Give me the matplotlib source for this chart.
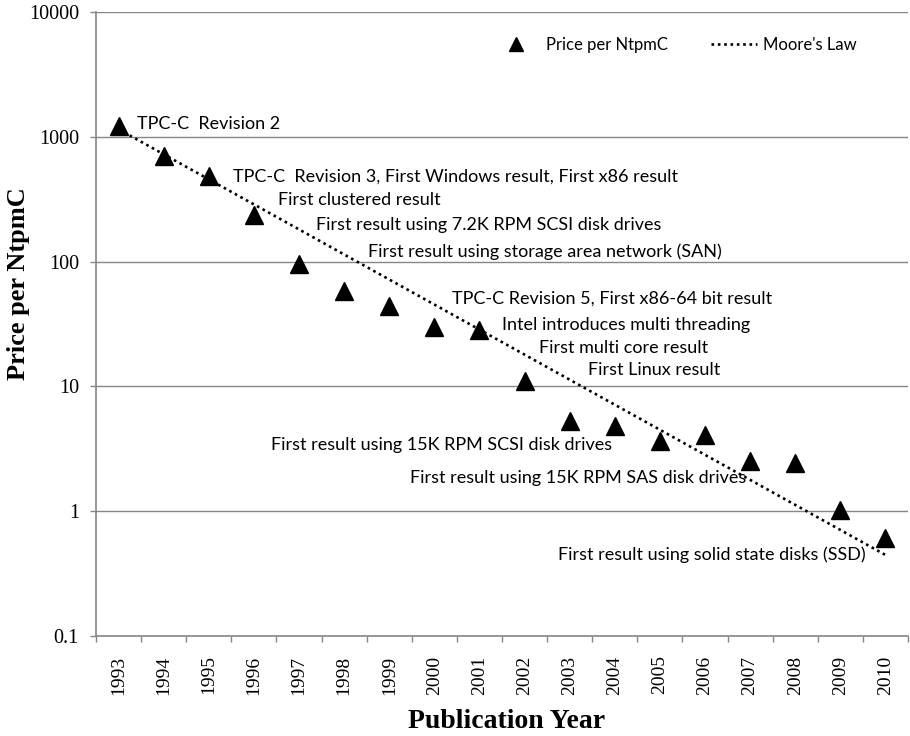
import matplotlib
matplotlib.use("Agg")
import matplotlib.pyplot as plt
from matplotlib.ticker import FixedLocator, NullFormatter, FixedFormatter

years = ["1993", "1994", "1995", "1996", "1997", "1998", "1999", "2000", "2001",
         "2002", "2003", "2004", "2005", "2006", "2007", "2008", "2009", "2010"]
price_per_ntpmc = [1210, 700, 485, 238, 96, 58, 44, 30, 28.5,
                   11.0, 5.3, 4.8, 3.65, 4.1, 2.52, 2.45, 1.02, 0.61]

# Moore's Law trend: endpoints of the straight (log-scale) line
moore_years = ["1993", "2010"]
moore_values = [1150, 0.446]

# Event notes: (text, x position in category units, y value, alignment)
events = [
    ("TPC-C  Revision 2", 0.41, 1267, "left"),
    ("TPC-C  Revision 3, First Windows result, First x86 result", 2.54, 476, "left"),
    ("First clustered result", 3.54, 312, "left"),
    ("First result using 7.2K RPM SCSI disk drives", 4.38, 196, "left"),
    ("First result using storage area network (SAN)", 5.53, 119, "left"),
    ("TPC-C Revision 5, First x86-64 bit result", 7.39, 50.2, "left"),
    ("Intel introduces multi threading", 8.50, 31.0, "left"),
    ("First multi core result", 9.32, 20.3, "left"),
    ("First Linux result", 10.41, 13.5, "left"),
    ("First result using 15K RPM SCSI disk drives", 10.94, 3.39, "right"),
    ("First result using 15K RPM SAS disk drives", 6.46, 1.85, "left"),
    ("First result using solid state disks (SSD)", 16.55, 0.446, "right"),
]

y_ticks = [0.1, 1, 10, 100, 1000, 10000]
y_tick_labels = ["0.1", "1", "10", "100", "1000", "10000"]

grey = "#868686"
serif = "Liberation Serif"
sans = "Lato"

fig = plt.figure(figsize=(9.10, 7.36), dpi=100)
ax = fig.add_axes([96 / 910, 1 - 636 / 736, (908 - 96) / 910, (636 - 12) / 736])

xpos = list(range(len(years)))
ax.set_yscale("log")
ax.set_ylim(0.1, 10000)
ax.set_xlim(-0.5, len(years) - 0.5)

for y in y_ticks:
    ax.axhline(y, color=grey, lw=1.0, zorder=1)

mx = [years.index(y) for y in moore_years]
ax.plot(mx, moore_values, color="black", lw=1.9, linestyle=(0, (1, 1.4)),
        zorder=3, label="Moore's Law")
ax.plot(xpos, price_per_ntpmc, linestyle="none", marker="^", markersize=13,
        color="black", zorder=4, label="Price per NtpmC")

for text, x, y, ha in events:
    ax.text(x, y, text, ha=ha, va="center", fontsize=13, family=sans,
            color="black", zorder=5)

# y axis
ax.yaxis.set_major_locator(FixedLocator(y_ticks))
ax.yaxis.set_major_formatter(FixedFormatter(y_tick_labels))
ax.yaxis.set_minor_locator(FixedLocator([]))
ax.yaxis.set_minor_formatter(NullFormatter())

# x axis: tick marks between categories, labels at category centres
ax.xaxis.set_major_locator(FixedLocator([i - 0.5 for i in range(len(years) + 1)]))
ax.xaxis.set_major_formatter(NullFormatter())
ax.xaxis.set_minor_locator(FixedLocator(xpos))
ax.xaxis.set_minor_formatter(FixedFormatter(years))
ax.tick_params(axis="x", which="major", length=4, width=1, color=grey, direction="out")
ax.tick_params(axis="x", which="minor", length=0, pad=14, labelsize=14,
               labelrotation=90)
ax.tick_params(axis="y", which="major", length=4.3, width=1, color=grey,
               direction="out", labelsize=14.5, pad=8)
for lab in ax.get_xticklabels(minor=True) + ax.get_yticklabels():
    lab.set_family(serif)

for side in ("top", "right"):
    ax.spines[side].set_visible(False)
for side in ("left", "bottom"):
    ax.spines[side].set_color(grey)
    ax.spines[side].set_linewidth(1.2)

fig.text(19 / 910, 1 - 284 / 736, "Price per NtpmC", family=serif,
         fontweight="bold", fontsize=19, rotation=90, ha="center", va="center")
fig.text(507 / 910, 1 - 721 / 736, "Publication Year", family=serif,
         fontweight="bold", fontsize=20, ha="center", va="center")

handles, labels = ax.get_legend_handles_labels()
leg = ax.legend(handles[::-1], labels[::-1], loc="upper right", ncol=2,
                frameon=False, prop={"family": sans, "size": 12},
                bbox_to_anchor=((857 - 96) / 812, (636 - 37) / 624),
                borderaxespad=0, borderpad=0, handlelength=2.75,
                columnspacing=2.6, handletextpad=0.4, markerscale=0.8)

fig.savefig("out.png", dpi=100)
